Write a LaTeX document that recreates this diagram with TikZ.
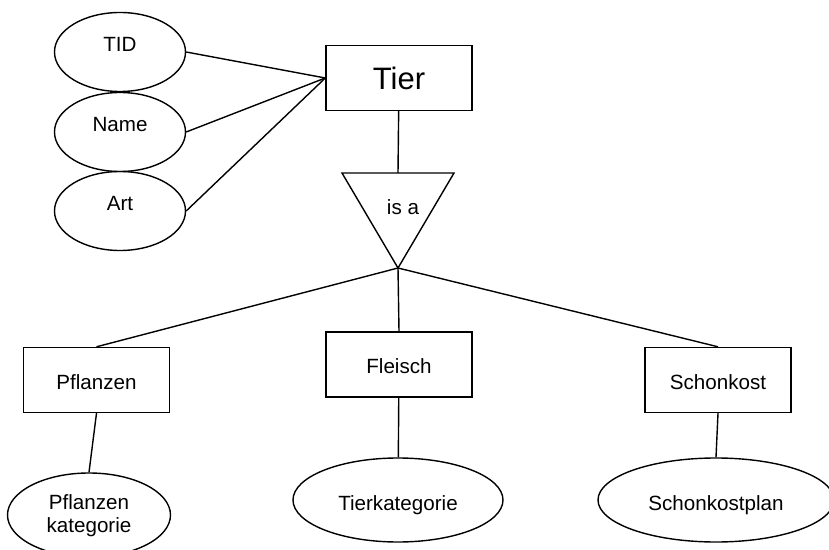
\documentclass[tikz,border=0pt]{standalone}
\usepackage{fontspec}
\setmainfont{Liberation Sans}
\usetikzlibrary{shapes.geometric}

\begin{document}
\begin{tikzpicture}[x=0.5pt,y=-0.5pt,line width=0.7pt,
        every node/.style={font=\fontsize{10.3}{11.8}\selectfont,inner sep=0pt},
        entity/.style={draw,minimum width=73pt,minimum height=32.5pt,text height=11pt,text depth=2pt},
        attr/.style={draw,ellipse,minimum width=65.5pt,minimum height=39.5pt,text height=7.5pt,text depth=7.5pt},
        subattr/.style={draw,ellipse,minimum height=42pt,align=center}]
            \clip (0,0) rectangle (829,550);
            % entity and its attributes
            \node[entity,font=\fontsize{15.5}{18}\selectfont,text height=14pt] (tier) at (399,78) {Tier};
            \node[attr] (tid) at (120,52) {TID};
            \node[attr] (name) at (120,132) {Name};
            \node[attr] (art) at (120,211) {Art};
            \foreach \a in {tid,name,art}
                \draw (\a.east) -- (tier.west);
            % is a
            \coordinate (isaleft) at (342,173);
            \coordinate (isaright) at (454,173);
            \coordinate (isatop) at (398,173);
            \coordinate (isatip) at (398,268);
            \draw (isaleft) -- (isaright) -- (isatip) -- cycle;
            \node (isa) at (403,207) {is a};
            \draw (tier) -- (isatop);
            % subtypes
            \node[entity] (pflanzen) at (96.5,380) {Pflanzen};
            \node[entity] (fleisch) at (399,364.5) {Fleisch};
            \node[entity] (schonkost) at (718,380) {Schonkost};
            \foreach \s in {pflanzen,fleisch,schonkost}
                \draw (isatip) -- (\s.north);
            \node[subattr,minimum width=81.5pt] (pkat) at (89,515) {\strut Pflanzen\\kategorie};
            \node[subattr,minimum width=105pt,text height=12pt,text depth=2pt] (tkat) at (398,500) {Tierkategorie};
            \node[subattr,minimum width=118pt,text height=12pt,text depth=2pt] (skat) at (716,500) {Schonkostplan};
            \draw (pflanzen.south) -- (pkat.north);
            \draw (fleisch) -- (tkat);
            \draw (schonkost.south) -- (skat.north);
        \end{tikzpicture}
\end{document}
